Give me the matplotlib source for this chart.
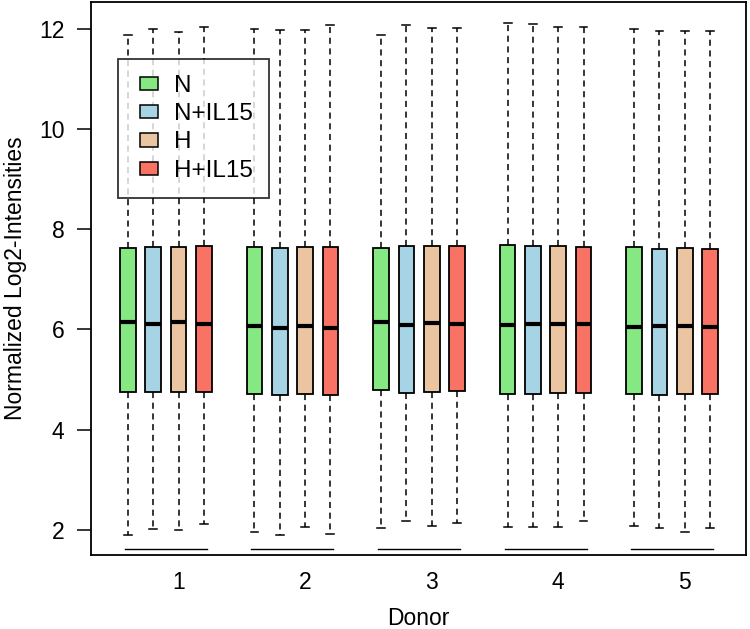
import matplotlib
matplotlib.use("Agg")
import matplotlib.pyplot as plt
from matplotlib.patches import Patch, Rectangle
from matplotlib.legend_handler import HandlerPatch

plt.rcParams['font.family'] = ['Liberation Sans', 'DejaVu Sans']

donors = ["1", "2", "3", "4", "5"]
conditions = ["N", "N+IL15", "H", "H+IL15"]
colors = ["#86E882", "#A6D4E4", "#EBC4A1", "#F87363"]

# per box (donor-major, condition-minor)
whisker_hi = [11.88, 12.00, 11.95, 12.05,
              12.00, 11.99, 11.99, 12.08,
              11.88, 12.09, 12.03, 12.03,
              12.13, 12.11, 12.05, 12.05,
              12.00, 11.96, 11.96, 11.96]
q3 = [7.62, 7.65, 7.64, 7.67,
      7.64, 7.62, 7.64, 7.65,
      7.62, 7.67, 7.66, 7.67,
      7.69, 7.67, 7.66, 7.65,
      7.64, 7.61, 7.62, 7.61]
median = [6.14, 6.11, 6.14, 6.11,
          6.06, 6.03, 6.06, 6.03,
          6.15, 6.09, 6.13, 6.10,
          6.09, 6.10, 6.11, 6.11,
          6.05, 6.06, 6.06, 6.05]
q1 = [4.76, 4.75, 4.75, 4.75,
      4.71, 4.69, 4.71, 4.69,
      4.79, 4.73, 4.75, 4.77,
      4.72, 4.72, 4.74, 4.73,
      4.71, 4.69, 4.71, 4.71]
whisker_lo = [1.90, 2.01, 1.99, 2.12,
              1.95, 1.90, 2.05, 1.92,
              2.03, 2.18, 2.07, 2.14,
              2.05, 2.05, 2.05, 2.17,
              2.08, 2.04, 1.95, 2.03]

FS = 16.5
LFS = 17.5

fig = plt.figure(figsize=(7.5, 6.29), dpi=100)
ax = fig.add_axes([0.1213, 0.1176, 0.9947 - 0.1213, 0.9968 - 0.1176])

positions = []
for g in range(len(donors)):
    for c in range(len(conditions)):
        positions.append(g * 5 + c + 1)

stats = []
for i in range(len(positions)):
    stats.append(dict(med=median[i], q1=q1[i], q3=q3[i],
                      whislo=whisker_lo[i], whishi=whisker_hi[i], fliers=[]))

bp = ax.bxp(stats, positions=positions, widths=0.62, patch_artist=True,
            showfliers=False,
            boxprops=dict(edgecolor="black", linewidth=1.3),
            whiskerprops=dict(linestyle=(0, (4, 3)), color="black", linewidth=1.1),
            capprops=dict(color="black", linewidth=1.1),
            medianprops=dict(color="black", linewidth=3.0),
            capwidths=0.31)
for i, patch in enumerate(bp['boxes']):
    patch.set_facecolor(colors[i % 4])

# group segments along bottom
for g in range(len(donors)):
    x0 = positions[g * 4] - 0.12
    x1 = positions[g * 4 + 3] + 0.12
    ax.plot([x0, x1], [1.61, 1.61], color="black", linewidth=1.0)

ax.set_xlim(-0.46, 25.42)
ax.set_ylim(1.495, 12.54)
ax.set_yticks([2, 4, 6, 8, 10, 12])
ax.set_xticks([g * 5 + 3 for g in range(len(donors))])
ax.set_xticklabels(donors)
ax.tick_params(axis='x', length=0, pad=11.5, labelsize=FS)
ax.tick_params(axis='y', length=10, width=1.1, pad=9, labelsize=FS)
for s in ax.spines.values():
    s.set_linewidth(1.3)

ax.set_xlabel("Donor", fontsize=FS, labelpad=9.5)
ax.set_ylabel("Normalized Log2-Intensities", fontsize=FS, labelpad=9)


def shifted_rect(legend, orig_handle, xdescent, ydescent, width, height, fontsize):
    w = 0.74 * fontsize
    h = 0.54 * fontsize
    return Rectangle((-xdescent + width - w, -ydescent + (height - h) / 2), w, h)


handles = [Patch(facecolor=colors[i], edgecolor="black", linewidth=1.1, label=conditions[i])
           for i in range(4)]
leg = ax.legend(handles=handles, loc="upper left", bbox_to_anchor=(0.0412, 0.897),
                fontsize=LFS, frameon=True, fancybox=False, edgecolor="black",
                handlelength=0.99, handleheight=0.7, handletextpad=0.66,
                labelspacing=0.26, borderpad=0.65, borderaxespad=0,
                handler_map={Patch: HandlerPatch(patch_func=shifted_rect)})
leg.get_frame().set_linewidth(1.3)

fig.savefig("out.png", dpi=100)
